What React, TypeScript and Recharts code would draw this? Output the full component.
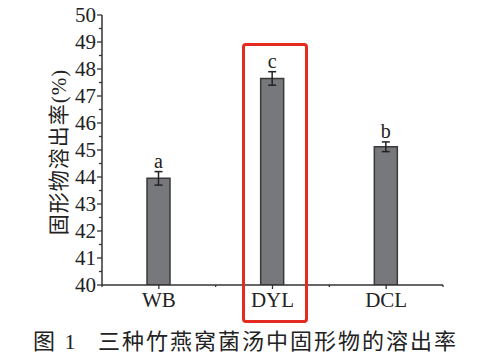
import { Bar, BarChart, ErrorBar, LabelList, XAxis, YAxis } from "recharts";

const categories = ["WB", "DYL", "DCL"];
const dissolution = [43.95, 47.65, 45.12];
const errors = [0.25, 0.25, 0.18];
const letters = ["a", "c", "b"];
const yTicks = [40, 40.5, 41, 41.5, 42, 42.5, 43, 43.5, 44, 44.5, 45, 45.5, 46, 46.5, 47, 47.5, 48, 48.5, 49, 49.5, 50];

const data = categories.map((name, i) => ({
  name,
  value: dissolution[i],
  err: errors[i],
  letter: letters[i],
}));

const SERIF = "'Liberation Serif', 'Times New Roman', serif";
const CJK = "'Liberation Serif', 'Noto Sans CJK SC', serif";
const AXIS = "#333";
const BAND = 341 / 3;

function YTick({ x, y, payload }: any) {
  const v = payload.value;
  const major = Number.isInteger(v);
  return (
    <g>
      <line x1={x - (major ? 5 : 3)} x2={x} y1={y} y2={y} stroke={AXIS} strokeWidth={1.3} />
      {major && (
        <text x={x - 6} y={y} dy={7} textAnchor="end" fontFamily={SERIF} fontSize={21} fill="#222">
          {v}
        </text>
      )}
    </g>
  );
}

function XTick({ x, y, payload, index }: any) {
  return (
    <g>
      <line x1={x} x2={x} y1={y} y2={y + 4} stroke={AXIS} strokeWidth={1.3} />
      <line x1={x + BAND / 2} x2={x + BAND / 2} y1={y} y2={y + 2} stroke={AXIS} strokeWidth={1.3} />
      {index === 0 && <line x1={x - BAND / 2} x2={x - BAND / 2} y1={y} y2={y + 2} stroke={AXIS} strokeWidth={1.3} />}
      <text x={x} y={y} dy={22} textAnchor="middle" fontFamily={SERIF} fontSize={21} fill="#222">
        {payload.value}
      </text>
    </g>
  );
}

function Letter(props: any) {
  const { x, y, width, height, index } = props;
  const d = data[index];
  const pxPerUnit = height / (d.value - 40);
  const top = y - d.err * pxPerUnit;
  return (
    <text x={x + width / 2} y={top - 4} textAnchor="middle" fontFamily={SERIF} fontSize={20} fill="#222">
      {d.letter}
    </text>
  );
}

export default function App() {
  return (
    <div style={{ position: "absolute", left: 0, top: 0, width: 482, height: 361, background: "#fff" }}>
      <BarChart
        width={482}
        height={361}
        data={data}
        barSize={23}
        margin={{ top: 15, right: 39, left: 42, bottom: 46 }}
      >
        <XAxis
          dataKey="name"
          height={30}
          stroke={AXIS}
          strokeWidth={1.5}
          tickLine={false}
          tickSize={0}
          tickMargin={0}
          tick={<XTick />}
          interval={0}
        />
        <YAxis
          domain={[40, 50]}
          ticks={yTicks}
          interval={0}
          width={60}
          stroke={AXIS}
          strokeWidth={1.5}
          tickLine={false}
          tickSize={0}
          tickMargin={0}
          tick={<YTick />}
          allowDataOverflow
        />
        <Bar dataKey="value" fill="#77787c" stroke="#3a3a3a" strokeWidth={1.5} isAnimationActive={false}>
          <ErrorBar dataKey="err" width={4} stroke="#222" strokeWidth={1.5} />
          <LabelList dataKey="letter" content={<Letter />} />
        </Bar>
      </BarChart>
      <div
        style={{
          position: "absolute",
          left: 57,
          top: 152,
          transform: "translate(-50%, -50%) rotate(-90deg)",
          whiteSpace: "nowrap",
          fontFamily: CJK,
          fontSize: 21,
          letterSpacing: 1,
          color: "#222",
        }}
      >
        固形物溶出率(%)
      </div>
      <div
        style={{
          position: "absolute",
          left: 242,
          top: 43,
          width: 66,
          height: 280,
          boxSizing: "border-box",
          border: "3.5px solid #e52a1f",
          borderRadius: 4,
        }}
      />
      <div
        style={{
          position: "absolute",
          left: 33,
          top: 329,
          whiteSpace: "nowrap",
          fontFamily: CJK,
          fontSize: 22,
          lineHeight: "26px",
          letterSpacing: 2,
          color: "#222",
        }}
      >
        <span>图 1</span>
        <span style={{ position: "absolute", left: 65 }}>三种竹燕窝菌汤中固形物的溶出率</span>
      </div>
    </div>
  );
}
